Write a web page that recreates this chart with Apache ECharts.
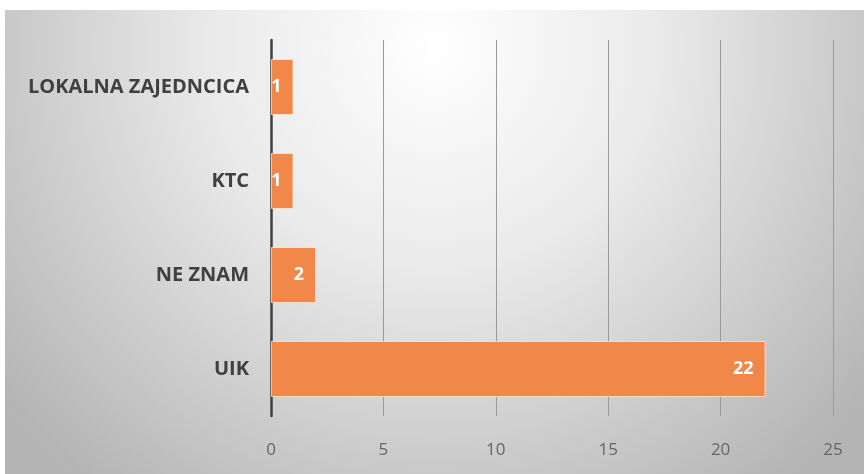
<!DOCTYPE html>
<html><head><meta charset="utf-8">
<script src="https://cdn.jsdelivr.net/npm/echarts@6/dist/echarts.min.js"></script>
<style>html,body{margin:0;padding:0;background:#fff}#c{width:864px;height:474px}</style>
</head><body><div id="c"></div>
<script>
const categories = ['UIK', 'NE ZNAM', 'KTC', 'LOKALNA ZAJEDNCICA'];
const values = [22, 2, 1, 1];
const xTicks = [0, 5, 10, 15, 20, 25];

const chart = echarts.init(document.getElementById('c'));
chart.setOption({
  animation: false,
  graphic: [{
    type: 'rect', z: -10, silent: true,
    shape: { x: 5, y: 10, width: 859, height: 464 },
    style: {
      fill: new echarts.graphic.RadialGradient(0.5, 0.08, 1.2, [
        { offset: 0, color: '#ffffff' },
        { offset: 0.4, color: '#eaeaea' },
        { offset: 1, color: '#b4b4b4' }
      ])
    }
  }],
  grid: { left: 271, right: 31, top: 40, bottom: 58, containLabel: false },
  xAxis: {
    type: 'value', min: xTicks[0], max: xTicks[xTicks.length - 1], interval: 5,
    axisLine: { show: false },
    axisTick: { show: false },
    splitLine: { show: true, lineStyle: { color: '#9a9a9a', width: 1 } },
    axisLabel: { color: '#666666', fontSize: 17, fontFamily: 'Open Sans', margin: 26 }
  },
  yAxis: {
    type: 'category', data: categories,
    axisLine: { show: true, lineStyle: { color: '#404040', width: 2.5 } },
    axisTick: { show: false },
    axisLabel: { color: '#404040', fontSize: 20, fontWeight: 'bold', fontFamily: 'Open Sans', margin: 22 }
  },
  series: [{
    type: 'bar', data: values, barWidth: 56,
    itemStyle: { color: '#F2874A', borderColor: 'rgba(255,240,230,0.7)', borderWidth: 1 },
    label: { show: true, position: 'insideRight', color: '#fff', fontWeight: 'bold', fontSize: 18, fontFamily: 'Open Sans', distance: 12 }
  }]
});
</script></body></html>
